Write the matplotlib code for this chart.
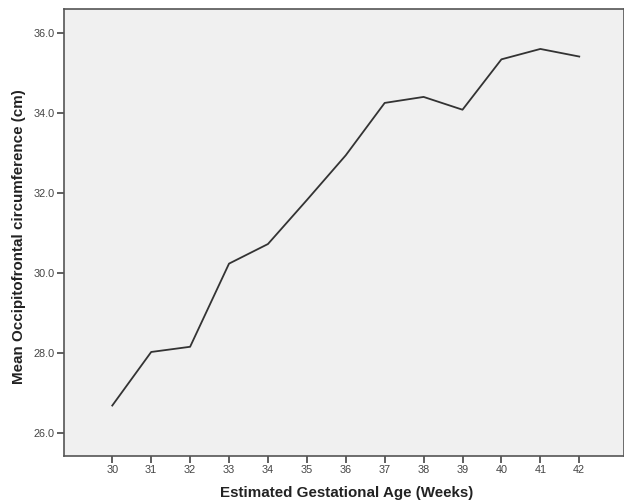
import matplotlib
matplotlib.use("Agg")
import matplotlib.pyplot as plt

# 데이터
weeks = [30, 31, 32, 33, 34, 35, 36, 37, 38, 39, 40, 41, 42]
mean_ofc = [26.68, 28.02, 28.15, 30.23, 30.72, 31.82, 32.94, 34.25, 34.40, 34.08, 35.34, 35.60, 35.41]
y_ticks = [26.0, 28.0, 30.0, 32.0, 34.0, 36.0]

plt.rcParams["font.family"] = ["Liberation Sans", "DejaVu Sans"]

fig = plt.figure(figsize=(6.24, 5.04), dpi=100)
ax = fig.add_axes([0.1026, 0.0958, 0.8974, 0.8864])
ax.set_facecolor("#f0f0f0")

ax.plot(weeks, mean_ofc, color="#333333", linewidth=1.3)

ax.set_xlim(28.76, 43.15)
ax.set_ylim(25.425, 36.6)
ax.set_xticks(weeks)
ax.set_xticklabels([str(w) for w in weeks])
ax.set_yticks(y_ticks)
ax.set_yticklabels([f"{v:.1f}" for v in y_ticks])

for side in ["top", "right", "left", "bottom"]:
    ax.spines[side].set_color("#555555")
    ax.spines[side].set_linewidth(1.2)

ax.tick_params(axis="both", direction="out", length=5, width=1.2,
               color="#444444", labelsize=7.8, labelcolor="#444444", pad=2)

ax.set_xlabel("Estimated Gestational Age (Weeks)", fontsize=10.9,
              fontweight="bold", color="#222222")
ax.set_ylabel("Mean Occipitofrontal circumference (cm)", fontsize=10.9,
              fontweight="bold", color="#222222")

# 라벨 위치 맞추기
ax.xaxis.set_label_coords(0.504, -0.0835)
ax.xaxis.label.set_va("center")
ax.yaxis.set_label_coords(-0.0804, 0.4896)
ax.yaxis.label.set_va("center")

fig.savefig("out.png", dpi=100)
